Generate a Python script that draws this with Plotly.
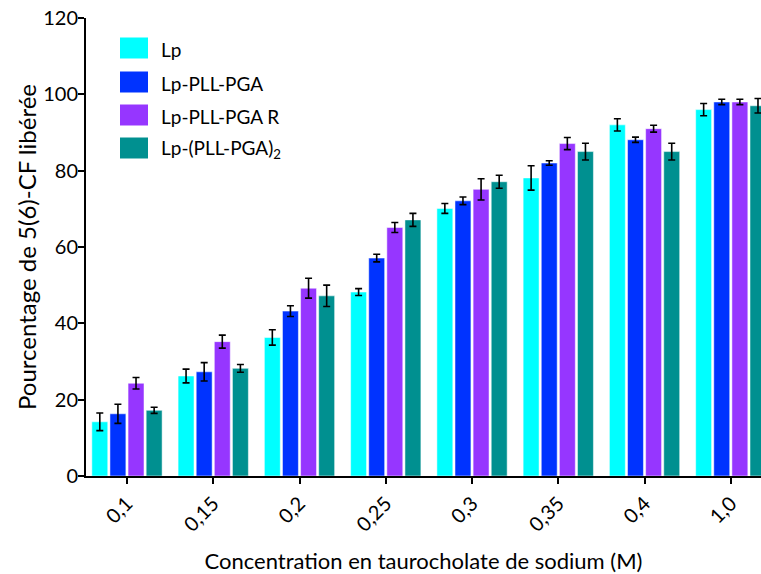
import plotly.graph_objects as go

categories = ["0,1", "0,15", "0,2", "0,25", "0,3", "0,35", "0,4", "1,0"]
series_names = ["Lp", "Lp-PLL-PGA", "Lp-PLL-PGA R", "Lp-(PLL-PGA)<sub>2</sub>"]
lp = [14.2, 26.2, 36.3, 48.2, 70.1, 78.1, 92.0, 96.0]
lp_err = [2.3, 1.8, 2.0, 0.9, 1.3, 3.2, 1.6, 1.6]
lp_pll_pga = [16.3, 27.3, 43.2, 57.1, 72.1, 82.0, 88.1, 98.0]
lp_pll_pga_err = [2.5, 2.4, 1.4, 1.0, 1.0, 0.6, 0.7, 0.7]
lp_pll_pga_r = [24.3, 35.2, 49.2, 65.1, 75.1, 87.1, 91.0, 98.0]
lp_pll_pga_r_err = [1.5, 1.7, 2.6, 1.3, 2.8, 1.6, 0.9, 0.7]
lp_pll_pga2 = [17.2, 28.2, 47.2, 67.1, 77.1, 85.0, 85.0, 97.0]
lp_pll_pga2_err = [0.8, 1.0, 2.8, 1.7, 1.7, 2.2, 2.2, 1.9]

colors = ["#00FFFF", "#0033FF", "#9636FF", "#009090"]
values = [lp, lp_pll_pga, lp_pll_pga_r, lp_pll_pga2]
errors = [lp_err, lp_pll_pga_err, lp_pll_pga_r_err, lp_pll_pga2_err]

FONT = "Lato"
W, H = 761, 574
L, R, T = 86, 0, 18
B = H - 476

fig = go.Figure()
for name, v, e, c in zip(series_names, values, errors, colors):
    fig.add_trace(go.Bar(
        x=categories, y=v, name=name,
        marker=dict(color=c, line=dict(color="rgba(255,255,255,0.5)", width=1)),
        error_y=dict(type="data", array=e, visible=True, color="black",
                     thickness=1.6, width=3.5),
        showlegend=False,
    ))

# custom legend (large swatches); positions in pixels
pw = W - L - R
ph = H - T - B
def px_x(px):
    return (px - L) / pw
def px_y(py):
    return (H - B - py) / ph

row_centers = [48, 82, 115, 148]
for name, c, yc in zip(series_names, colors, row_centers):
    fig.add_shape(type="rect", xref="paper", yref="paper",
                  x0=px_x(120), x1=px_x(148), y0=px_y(yc + 10.5), y1=px_y(yc - 10.5),
                  fillcolor=c, line=dict(width=0))
    fig.add_annotation(xref="paper", yref="paper", x=px_x(159), y=px_y(yc + 1),
                       text=name, showarrow=False, xanchor="left", yanchor="middle",
                       font=dict(family=FONT, size=19, color="black"))

fig.update_layout(
    width=W, height=H,
    margin=dict(l=L, r=R, t=T, b=B, autoexpand=False),
    plot_bgcolor="white", paper_bgcolor="white",
    barmode="group", bargap=0.16, bargroupgap=0.12,
    font=dict(family=FONT, size=19, color="black"),
    xaxis=dict(
        range=[-0.475, 7.35], showline=True, linecolor="black", linewidth=2,
        ticks="outside", ticklen=6, tickwidth=2, tickcolor="black",
        tickangle=-45, tickfont=dict(family=FONT, size=20),
        ticklabeloverflow="allow",
        title=dict(text="Concentration en taurocholate de sodium (M)",
                   font=dict(family=FONT, size=22), standoff=22),
        showgrid=False, zeroline=False, automargin=False,
    ),
    yaxis=dict(
        range=[0, 120], tickvals=[0, 20, 40, 60, 80, 100, 120],
        showline=True, linecolor="black", linewidth=2,
        ticks="outside", ticklen=6, tickwidth=2, tickcolor="black",
        tickfont=dict(family=FONT, size=20), ticklabelstandoff=-4,
        ticklabeloverflow="allow",
        title=dict(text="Pourcentage de 5(6)-CF libérée",
                   font=dict(family=FONT, size=24), standoff=0),
        showgrid=False, zeroline=False, automargin=False,
    ),
)

fig.write_html(
    "out.html",
    config={"displayModeBar": False},
    post_script="document.body.style.margin='0';document.documentElement.style.overflow='hidden';",
)
